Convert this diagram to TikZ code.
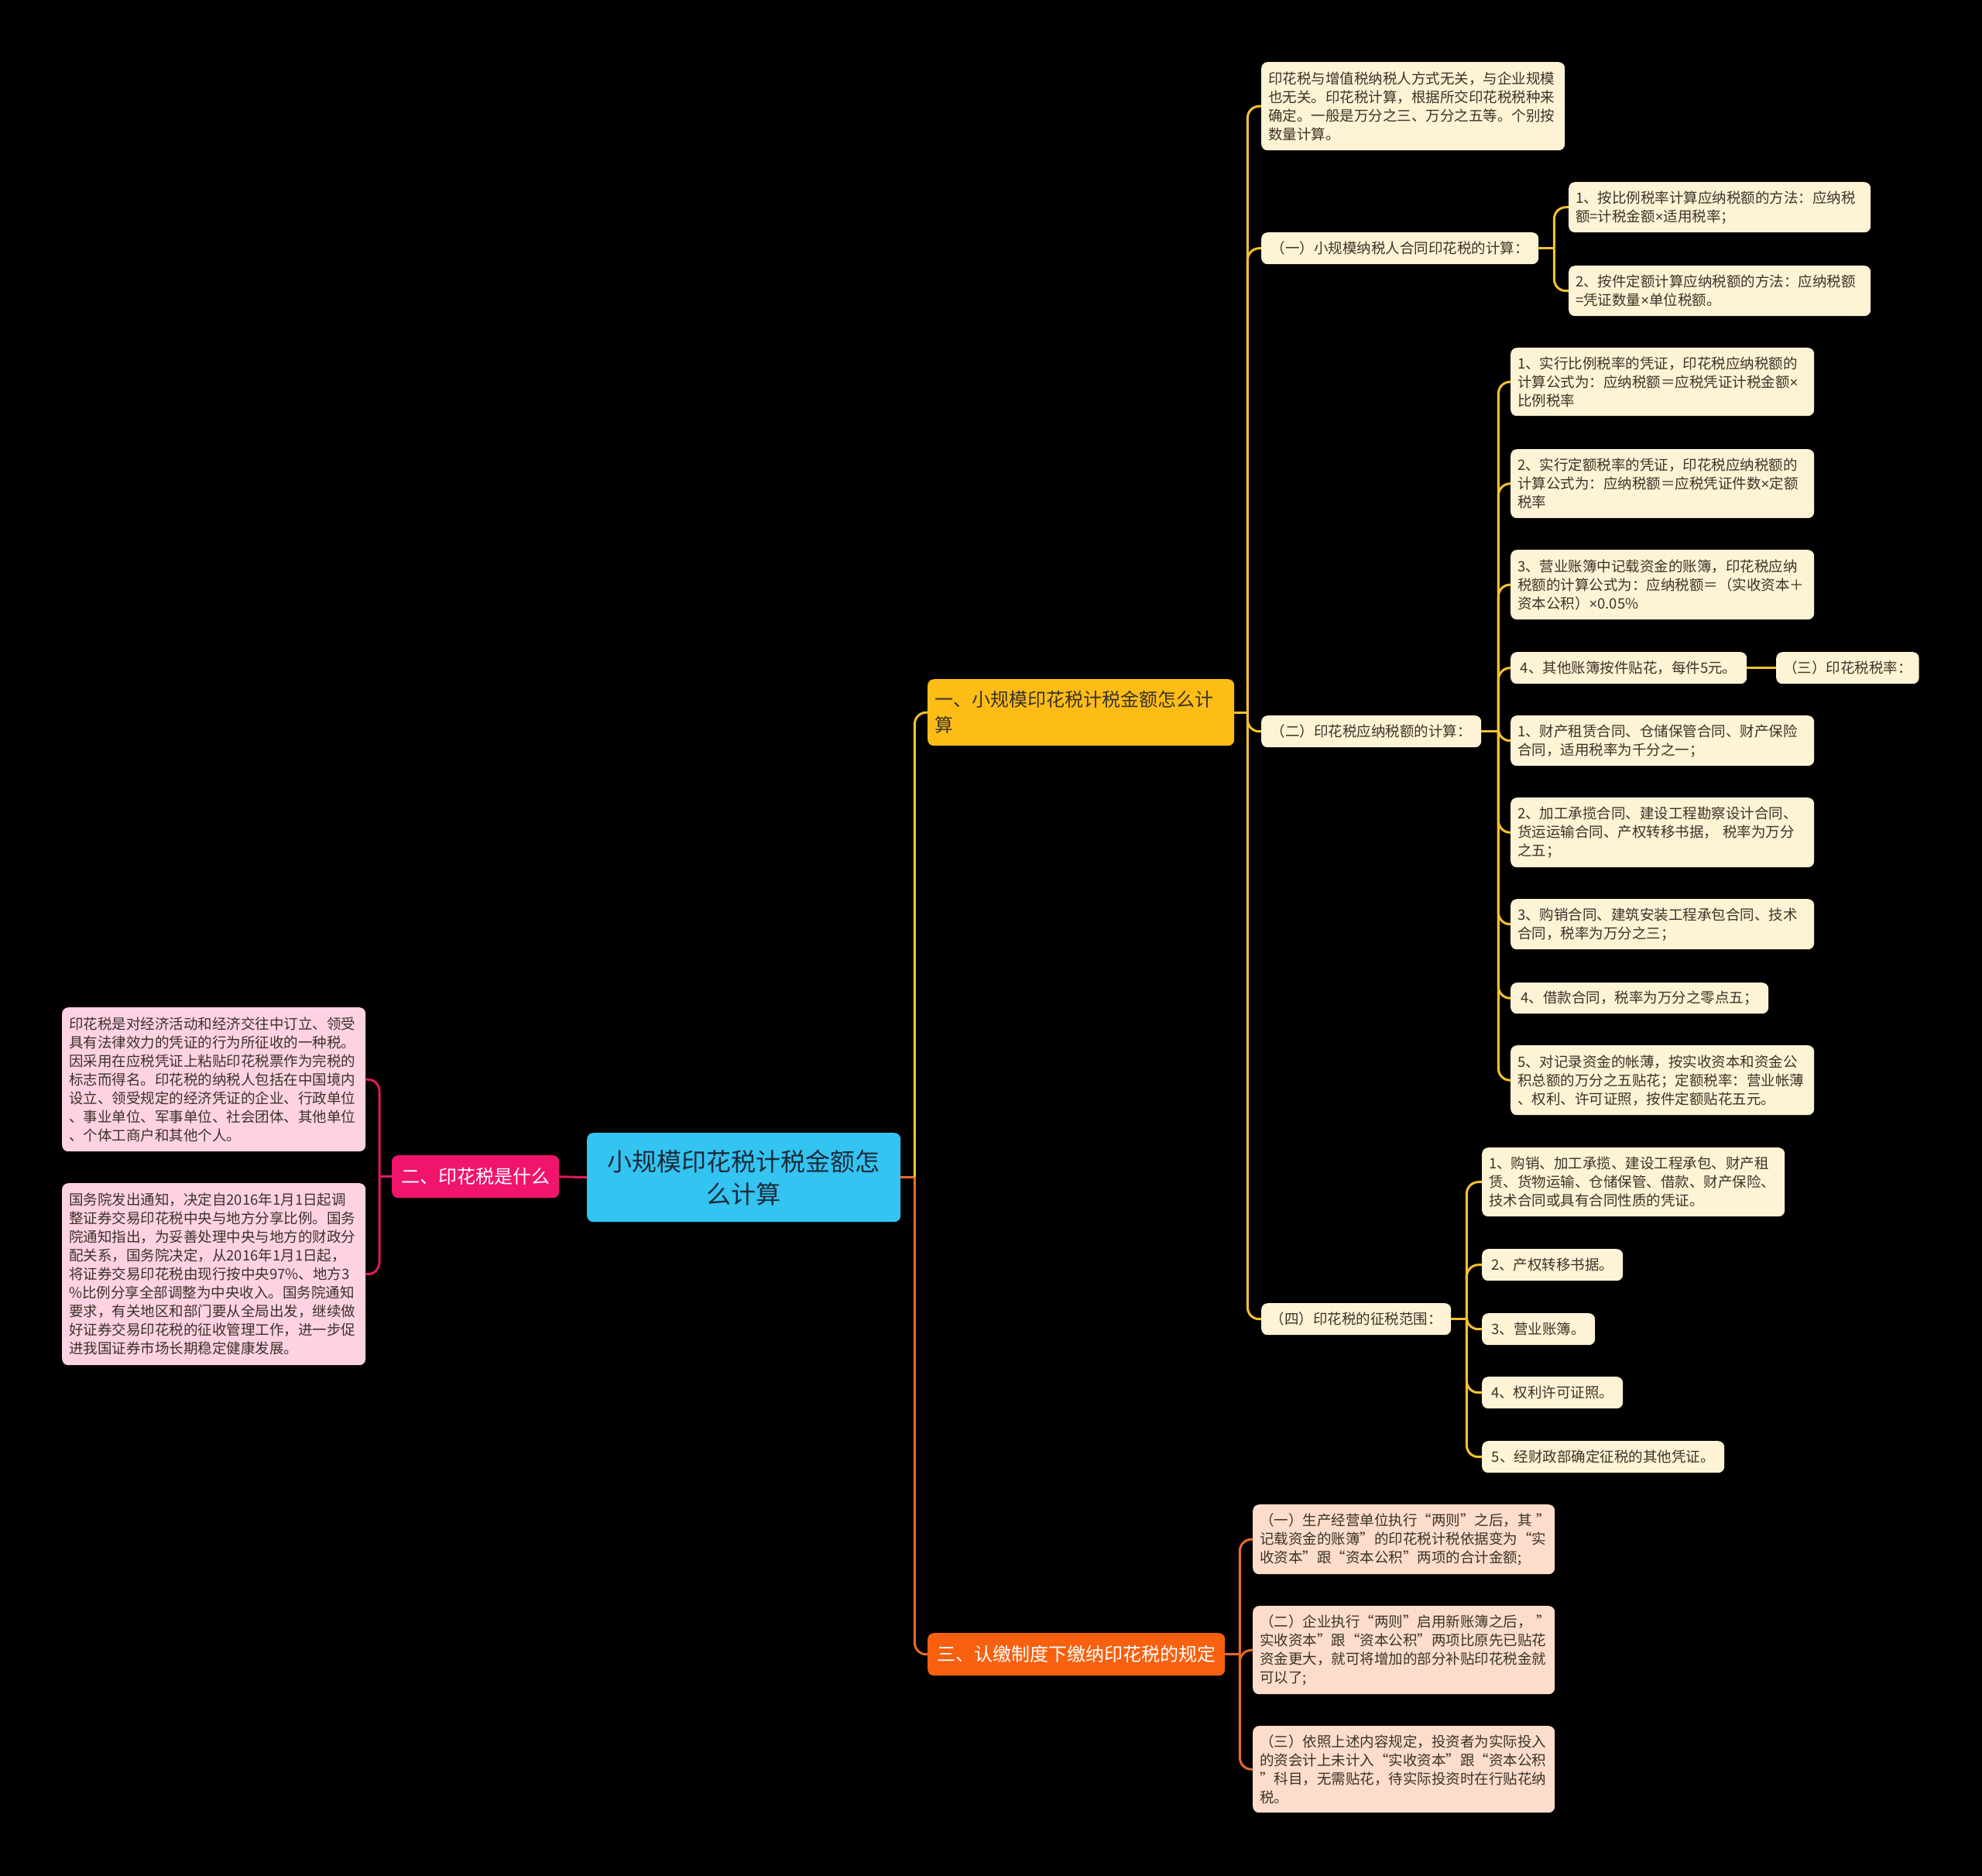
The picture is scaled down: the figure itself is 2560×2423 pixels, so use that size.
\documentclass[tikz,border=0pt]{standalone}
\usepackage{fontspec}
\setmainfont{Noto Sans CJK SC}
\newfontfamily\latinf{Liberation Sans}
\newcommand\tm{{\latinf ×}}
\definecolor{bgc}{HTML}{000000}
\definecolor{rootfill}{HTML}{33C4F2}
\definecolor{roottext}{HTML}{1B2B38}
\definecolor{yfill}{HTML}{FDBD16}
\definecolor{pfill}{HTML}{F1146C}
\definecolor{ofill}{HTML}{F7600F}
\definecolor{yleaf}{HTML}{FFF3D5}
\definecolor{pleaf}{HTML}{FFD2E3}
\definecolor{oleaf}{HTML}{FCDCCB}
\definecolor{yline}{HTML}{F4C12E}
\definecolor{pline}{HTML}{E0195F}
\definecolor{oline}{HTML}{E56A2A}
\definecolor{leaftext}{HTML}{3A3328}
\newcommand\fsleaf{\fontsize{18.5pt}{24pt}\selectfont}
\newcommand\fsroot{\fontsize{32pt}{42pt}\selectfont}
\newcommand\fsbr{\fontsize{24pt}{33pt}\selectfont}
\tikzset{
  box/.style={rounded corners=8pt, anchor=north west, inner xsep=9pt, inner ysep=3pt},
  leafy/.style={box, fill=yleaf, text=leaftext, font=\fsleaf, align=left},
  leafp/.style={box, fill=pleaf, text=leaftext, font=\fsleaf, align=left},
  leafo/.style={box, fill=oleaf, text=leaftext, font=\fsleaf, align=left},
  rootbox/.style={box, fill=rootfill, text=roottext, font=\fsroot, align=center},
  brbox/.style={box, font=\fsbr},
  ly/.style={draw=yline, line width=3pt, rounded corners=15pt},
  lp/.style={draw=pline, line width=3pt, rounded corners=15pt},
  lo/.style={draw=oline, line width=3pt, rounded corners=15pt},
}
\begin{document}
\begin{tikzpicture}[x=1pt,y=-1pt]
\fill[bgc] (0,0) rectangle (2560,2423);
\useasboundingbox (0,0) rectangle (2560,2423);

% root and main branches
\node[rootbox, text width=387pt, minimum height=115pt] (root) at (758,1463) {小规模印花税计税金额怎\\么计算};
\node[brbox, fill=yfill, text=leaftext, align=left, text width=378pt, minimum height=86pt] (br1) at (1198,877) {一、小规模印花税计税金额怎么计\\算};
\node[brbox, fill=pfill, text=white, align=center, minimum width=216pt, minimum height=55pt] (br2) at (506,1492) {二、印花税是什么};
\node[brbox, fill=ofill, text=white, align=center, minimum width=384pt, minimum height=55pt] (br3) at (1198,2109) {三、认缴制度下缴纳印花税的规定};

% level 2 under branch 1
\node[leafy, text width=374pt, minimum height=114pt] (a0) at (1629,80) {印花税与增值税纳税人方式无关，与企业规模\\也无关。印花税计算，根据所交印花税税种来\\确定。一般是万分之三、万分之五等。个别按\\数量计算。};
\node[leafy, minimum width=358pt, minimum height=41pt, align=center] (a1) at (1629,300) {（一）小规模纳税人合同印花税的计算：};
\node[leafy, minimum width=284pt, minimum height=41pt, align=center] (a2) at (1629,924) {（二）印花税应纳税额的计算：};
\node[leafy, minimum width=245pt, minimum height=41pt, align=center] (a4) at (1629,1683) {（四）印花税的征税范围：};

% under a1
\node[leafy, text width=372pt, minimum height=65pt] (b1) at (2026,235) {1、按比例税率计算应纳税额的方法：应纳税\\额=计税金额\tm 适用税率；};
\node[leafy, text width=372pt, minimum height=65pt] (b2) at (2026,343) {2、按件定额计算应纳税额的方法：应纳税额\\=凭证数量\tm 单位税额。};

% under a2
\node[leafy, text width=374pt, minimum height=88pt] (c1) at (1951,449) {1、实行比例税率的凭证，印花税应纳税额的\\计算公式为：应纳税额＝应税凭证计税金额\tm\\比例税率};
\node[leafy, text width=374pt, minimum height=89pt] (c2) at (1951,580) {2、实行定额税率的凭证，印花税应纳税额的\\计算公式为：应纳税额＝应税凭证件数\tm 定额\\税率};
\node[leafy, text width=374pt, minimum height=90pt] (c3) at (1951,710) {3、营业账簿中记载资金的账簿，印花税应纳\\税额的计算公式为：应纳税额＝（实收资本＋\\资本公积）\tm 0.05\%};
\node[leafy, minimum width=305pt, minimum height=41pt, align=center] (c4) at (1951,842) {4、其他账簿按件贴花，每件5元。};
\node[leafy, minimum width=184pt, minimum height=41pt, align=center] (c4a) at (2294,842) {（三）印花税税率：};
\node[leafy, text width=374pt, minimum height=65pt] (c5) at (1951,924) {1、财产租赁合同、仓储保管合同、财产保险\\合同，适用税率为千分之一；};
\node[leafy, text width=374pt, minimum height=90pt] (c6) at (1951,1030) {2、加工承揽合同、建设工程勘察设计合同、\\货运运输合同、产权转移书据，~税率为万分\\之五；};
\node[leafy, text width=374pt, minimum height=65pt] (c7) at (1951,1161) {3、购销合同、建筑安装工程承包合同、技术\\合同，税率为万分之三；};
\node[leafy, minimum width=333pt, minimum height=40pt, align=center] (c8) at (1951,1269) {4、借款合同，税率为万分之零点五；};
\node[leafy, text width=374pt, minimum height=90pt] (c9) at (1951,1350) {5、对记录资金的帐薄，按实收资本和资金公\\积总额的万分之五贴花；定额税率：营业帐薄\\、权利、许可证照，按件定额贴花五元。};

% under a4
\node[leafy, text width=373pt, minimum height=89pt] (d1) at (1914,1482) {1、购销、加工承揽、建设工程承包、财产租\\赁、货物运输、仓储保管、借款、财产保险、\\技术合同或具有合同性质的凭证。};
\node[leafy, minimum width=182pt, minimum height=41pt, align=center] (d2) at (1914,1613) {2、产权转移书据。};
\node[leafy, minimum width=146pt, minimum height=41pt, align=center] (d3) at (1914,1696) {3、营业账簿。};
\node[leafy, minimum width=182pt, minimum height=41pt, align=center] (d4) at (1914,1778) {4、权利许可证照。};
\node[leafy, minimum width=313pt, minimum height=41pt, align=center] (d5) at (1914,1861) {5、经财政部确定征税的其他凭证。};

% under branch 3
\node[leafo, text width=372pt, minimum height=90pt] (e1) at (1618,1943) {（一）生产经营单位执行“两则”之后，其~”\\记载资金的账簿”的印花税计税依据变为“实\\收资本”跟“资本公积”两项的合计金额;};
\node[leafo, text width=372pt, minimum height=114pt] (e2) at (1618,2074) {（二）企业执行“两则”启用新账簿之后，~”\\实收资本”跟“资本公积”两项比原先已贴花\\资金更大，就可将增加的部分补贴印花税金就\\可以了;};
\node[leafo, text width=372pt, minimum height=112pt] (e3) at (1618,2229) {（三）依照上述内容规定，投资者为实际投入\\的资会计上未计入“实收资本”跟“资本公积\\”科目，无需贴花，待实际投资时在行贴花纳\\税。};

% under branch 2
\node[leafp, text width=374pt, minimum height=186pt] (p1) at (80,1301) {印花税是对经济活动和经济交往中订立、领受\\具有法律效力的凭证的行为所征收的一种税。\\因采用在应税凭证上粘贴印花税票作为完税的\\标志而得名。印花税的纳税人包括在中国境内\\设立、领受规定的经济凭证的企业、行政单位\\、事业单位、军事单位、社会团体、其他单位\\、个体工商户和其他个人。};
\node[leafp, text width=374pt, minimum height=235pt] (p2) at (80,1528) {国务院发出通知，决定自2016年1月1日起调\\整证券交易印花税中央与地方分享比例。国务\\院通知指出，为妥善处理中央与地方的财政分\\配关系，国务院决定，从2016年1月1日起，\\将证券交易印花税由现行按中央97\%、地方3\\\%比例分享全部调整为中央收入。国务院通知\\要求，有关地区和部门要从全局出发，继续做\\好证券交易印花税的征收管理工作，进一步促\\进我国证券市场长期稳定健康发展。};

% junction coordinates
\path (root.east) ++(18,0) coordinate (jr);
\path (br1.east) ++(17,0) coordinate (j1);
\path (br2.west) ++(-16,0) coordinate (j2);
\path (br3.east) ++(19,0) coordinate (j3);
\path (a1.east) ++(20,0) coordinate (ja1);
\path (a2.east) ++(22,0) coordinate (ja2);
\path (a4.east) ++(20,0) coordinate (ja4);

% connectors: root
\draw[lo] (root.east) -- (jr);
\draw[ly] (jr) |- (br1.west);
\draw[lo] (jr) |- (br3.west);
\draw[lp] (root.west) -- (br2.east);

% branch 1
\draw[ly] (br1.east) -- (j1);
\foreach \n in {a0,a1,a2,a4} \draw[ly] (j1) |- (\n.west);
\draw[ly] (a1.east) -- (ja1);
\foreach \n in {b1,b2} \draw[ly] (ja1) |- (\n.west);
\draw[ly] (a2.east) -- (ja2);
\foreach \n in {c1,c2,c3,c4,c5,c6,c7,c8,c9} \draw[ly] (ja2) |- (\n.west);
\draw[ly] (c4.east) -- (c4a.west);
\draw[ly] (a4.east) -- (ja4);
\foreach \n in {d1,d2,d3,d4,d5} \draw[ly] (ja4) |- (\n.west);

% branch 2
\draw[lp] (br2.west) -- (j2);
\foreach \n in {p1,p2} \draw[lp] (j2) |- (\n.east);

% branch 3
\draw[lo] (br3.east) -- (j3);
\foreach \n in {e1,e2,e3} \draw[lo] (j3) |- (\n.west);
\end{tikzpicture}
\end{document}
